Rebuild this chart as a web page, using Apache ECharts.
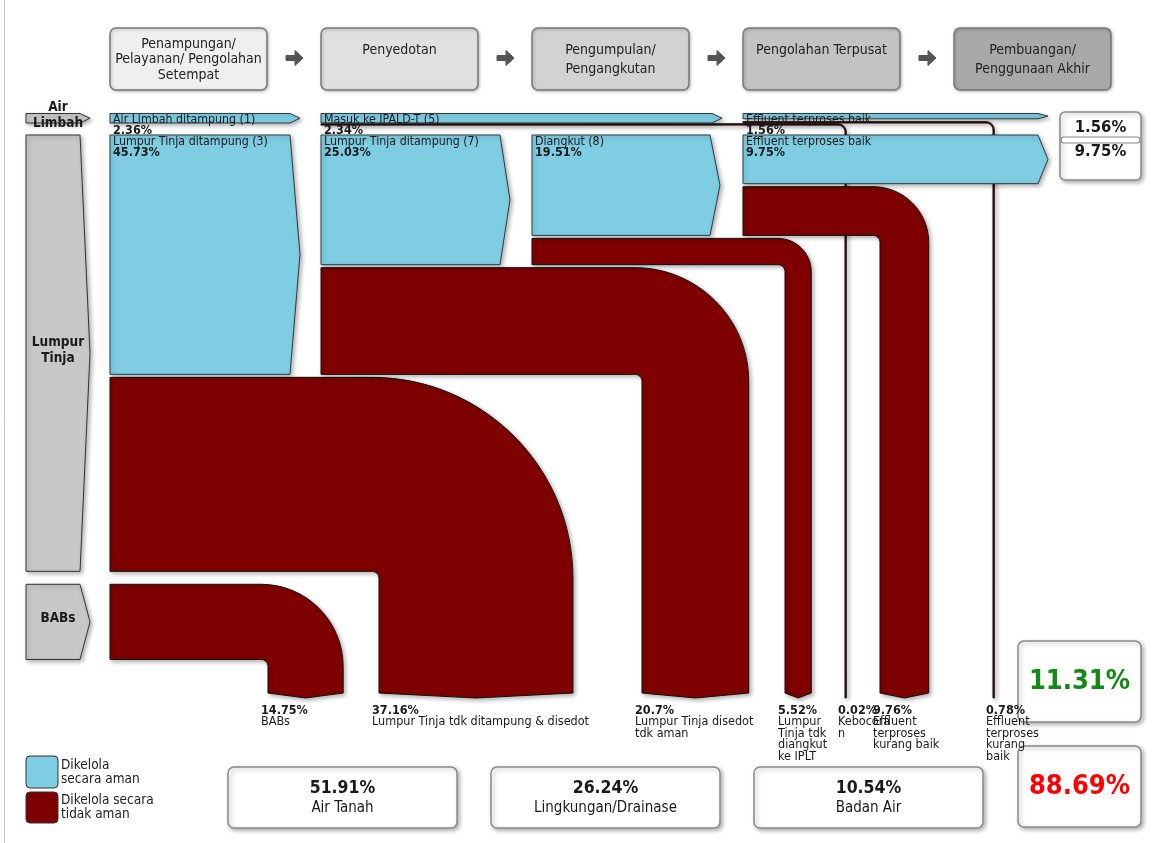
<!DOCTYPE html>
<html><head><meta charset="utf-8">
<script src="https://cdn.jsdelivr.net/npm/echarts@6/dist/echarts.min.js"></script>
<style>html,body{margin:0;padding:0;background:#fff}#c{width:1153px;height:843px}</style>
</head><body><div id="c"></div>
<script>
// ================= DATA =================
const stageNames = ['Penampungan/\nPelayanan/ Pengolahan\nSetempat', 'Penyedotan\n ', 'Pengumpulan/\nPengangkutan', 'Pengolahan Terpusat\n ', 'Pembuangan/\nPenggunaan Akhir'];
const sourceNames = ['Air\nLimbah', 'Lumpur\nTinja', 'BABs'];
const sourceValues = [2.36, 82.89, 14.75];

const safeNames = ['Air Limbah ditampung (1)', 'Lumpur Tinja ditampung (3)', 'Masuk ke IPALD-T (5)', 'Lumpur Tinja ditampung (7)', 'Diangkut (8)', 'Effluent terproses baik', 'Effluent terproses baik'];
const safeValues = [2.36, 45.73, 2.34, 25.03, 19.51, 1.56, 9.75];

const unsafeNames = ['BABs', 'Lumpur Tinja tdk ditampung & disedot', 'Lumpur Tinja disedot\ntdk aman', 'Lumpur\nTinja tdk\ndiangkut\nke IPLT', 'Kebocora\nn', 'Effluent\nterproses\nkurang baik', 'Effluent\nterproses\nkurang\nbaik'];
const unsafeValues = [14.75, 37.16, 20.7, 5.52, 0.02, 9.76, 0.78];

const endNames = ['Air Tanah', 'Lingkungan/Drainase', 'Badan Air'];
const endValues = [51.91, 26.24, 10.54];
const finalSafeValues = [1.56, 9.75];
const totalValues = [11.31, 88.69];

const legendNames = ['Dikelola\nsecara aman', 'Dikelola secara\ntidak aman'];

// ================= LAYOUT / STYLE =================
const FONT = "'Liberation Sans Narrow','DejaVu Sans Condensed','Roboto Condensed','Liberation Sans',sans-serif";
const BLUE = '#7ecde2', MAROON = '#7f0000', GRAY = '#c8c8c8';
const K = 5.3;          // px per percentage point
const INSET = 1.5, TIP = 10, MIN_T = 1.3, Y_END = 693;
const ROW_Y = [112, 133.5, 582.8];           // air row, lumpur row, BABs row
const SRC_X = [26, 90];
// safe flows: [startX, tipX, row]
const safeLayout = [[110, 300, 0], [110, 300, 1], [321, 722, 0], [321, 510, 1], [532, 720, 1], [743, 1048, 0], [743, 1048, 1]];
// unsafe flows: [startX, dropX, row, index of safe flow stacked above]
const unsafeLayout = [[110, 268, 2, -1], [110, 379, 1, 1], [321, 642, 1, 3], [532, 785, 1, 4], [321, 845, 0, 2], [743, 880, 1, 6], [743, 993, 0, 5]];
const stageBoxX = [110, 321, 532, 743, 954];
const stageFill = ['#efefef', '#e0e0e0', '#d2d2d2', '#c3c3c3', '#a9a9a9'];
const endBoxX = [228, 491, 754];
const totalColors = ['#138a13', '#ff0000'];

const SHADOW = {shadowBlur: 4, shadowOffsetX: 2, shadowOffsetY: 2, shadowColor: 'rgba(0,0,0,0.3)'};
const pct = v => v + '%';
function txt(x, y, text, opt) {
  return {type: 'text', x: x, y: y, z2: 50, silent: true,
    style: Object.assign({text: text, fill: '#1a1a1a', fontFamily: FONT, fontSize: 13, align: 'left', verticalAlign: 'middle'}, opt || {})};
}

// ================= RENDERERS =================
function renderSource(params, api) {
  const i = params.dataIndex;
  const a = api.coord([api.value(0), api.value(2)]);
  const b = api.coord([api.value(1), api.value(2) + api.value(3) * K]);
  const top = a[1] + INSET, bot = b[1] - INSET, mid = (top + bot) / 2;
  return {type: 'group', children: [
    {type: 'polygon', shape: {points: [[a[0], top], [b[0] - TIP, top], [b[0], mid], [b[0] - TIP, bot], [a[0], bot]]},
      style: Object.assign({fill: GRAY, stroke: '#333', lineWidth: 1}, SHADOW)},
    txt((a[0] + b[0]) / 2, mid - 3, sourceNames[i], {fontWeight: 'bold', align: 'center', fontSize: 13.5, lineHeight: 16})
  ]};
}

function renderSafe(params, api) {
  const i = params.dataIndex;
  const rowY = api.value(2), off = api.value(3), v = api.value(4);
  const a = api.coord([api.value(0), rowY + off * K]);
  const b = api.coord([api.value(1), rowY + (off + v) * K]);
  const top = a[1] + INSET, bot = b[1] - INSET, mid = (top + bot) / 2;
  return {type: 'group', children: [
    {type: 'polygon', shape: {points: [[a[0], top], [b[0] - TIP, top], [b[0], mid], [b[0] - TIP, bot], [a[0], bot]]},
      style: Object.assign({fill: BLUE, stroke: '#2d3b40', lineWidth: 1}, SHADOW)},
    txt(a[0] + 3, top + 6.5, safeNames[i], {fontSize: 12.3}),
    txt(a[0] + 3, top + 17.5, pct(v), {fontSize: 12.5, fontWeight: 'bold'})
  ]};
}

function renderUnsafe(params, api) {
  const i = params.dataIndex;
  const rowY = api.value(2), off = api.value(3), v = api.value(4);
  const a = api.coord([api.value(0), rowY + off * K]);
  const b = api.coord([api.value(1), rowY + (off + v) * K]);
  const r = api.coord([api.value(1) + v * K, Y_END]);
  let top = a[1] + INSET, bot = b[1] - INSET;
  let xl = b[0], xr = r[0] - 2 * INSET;
  if (bot - top < MIN_T) {
    const c = (a[1] + b[1]) / 2; top = c - MIN_T / 2; bot = c + MIN_T / 2; xr = xl + MIN_T;
  }
  const t = bot - top;
  const thin = t < 4;
  const yEnd = thin ? r[1] + 5 : r[1];
  const notch = thin ? 0 : 5;
  const ri = 7, ro = (xr - xl) + ri, kk = 0.5523;
  const x0 = a[0];
  let d = 'M' + x0 + ',' + top + ' L' + (xr - ro) + ',' + top +
    ' C' + (xr - ro + ro * kk) + ',' + top + ' ' + xr + ',' + (top + ro - ro * kk) + ' ' + xr + ',' + (top + ro) +
    ' L' + xr + ',' + yEnd;
  if (notch) d += ' L' + ((xl + xr) / 2) + ',' + (yEnd + notch);
  d += ' L' + xl + ',' + yEnd + ' L' + xl + ',' + (bot + ri) +
    ' C' + xl + ',' + (bot + ri - ri * kk) + ' ' + (xl - ri + ri * kk) + ',' + bot + ' ' + (xl - ri) + ',' + bot +
    ' L' + x0 + ',' + bot + ' Z';
  return {type: 'group', children: [
    {type: 'path', shape: {pathData: d}, style: Object.assign({fill: MAROON, stroke: '#111', lineWidth: 1}, SHADOW)},
    txt(xl - 7, r[1] + 18, pct(v), {fontWeight: 'bold', fontSize: 12.5, verticalAlign: 'middle'}),
    txt(xl - 7, r[1] + 23, unsafeNames[i], {fontSize: 12.5, verticalAlign: 'top', lineHeight: 11.6})
  ]};
}

function renderEnd(params, api) {
  const i = params.dataIndex;
  const a = api.coord([api.value(0), 767]);
  const b = api.coord([api.value(0) + 229, 828]);
  const cx = (a[0] + b[0]) / 2;
  return {type: 'group', children: [
    {type: 'rect', shape: {x: a[0], y: a[1], width: b[0] - a[0], height: b[1] - a[1], r: 6},
      style: Object.assign({fill: '#fff', stroke: '#8a8a8a', lineWidth: 1.5}, SHADOW)},
    txt(cx, a[1] + 21, pct(api.value(1)), {fontWeight: 'bold', fontSize: 17.5, align: 'center'}),
    txt(cx, a[1] + 41, endNames[i], {fontSize: 15, align: 'center'})
  ]};
}

function renderTotal(params, api) {
  const i = params.dataIndex;
  const a = api.coord([1018, api.value(0)]);
  const b = api.coord([1141, api.value(0) + 81]);
  return {type: 'group', children: [
    {type: 'rect', shape: {x: a[0], y: a[1], width: b[0] - a[0], height: b[1] - a[1], r: 6},
      style: Object.assign({fill: '#fff', stroke: '#8a8a8a', lineWidth: 1.5}, SHADOW)},
    txt((a[0] + b[0]) / 2, (a[1] + b[1]) / 2, pct(api.value(1)), {fontWeight: 'bold', fontSize: 27, align: 'center', fill: totalColors[i]})
  ]};
}

function renderFinalSafe(params, api) {
  const a = api.coord([1060, 112]);
  const b = api.coord([1141, 180]);
  const cx = (a[0] + b[0]) / 2;
  const children = [];
  if (params.dataIndex === 0) {
    children.push({type: 'rect', shape: {x: a[0], y: a[1], width: b[0] - a[0], height: b[1] - a[1], r: 5},
      style: Object.assign({fill: '#fff', stroke: '#8a8a8a', lineWidth: 1.5}, SHADOW)});
    children.push({type: 'rect', z2: 5, shape: {x: a[0] + 1, y: a[1] + 25, width: b[0] - a[0] - 2, height: 6, r: 3},
      style: {fill: '#fff', stroke: '#8a8a8a', lineWidth: 1.2}});
  }
  children.push(txt(cx, a[1] + 16 + params.dataIndex * 24, pct(api.value(1)), {fontWeight: 'bold', fontSize: 16.5, align: 'center'}));
  return {type: 'group', children: children};
}

// ================= DECORATION (headers, legend) =================
const graphics = [{type: 'line', shape: {x1: 4.5, y1: 0, x2: 4.5, y2: 843}, style: {stroke: '#c4c4c4', lineWidth: 1}}];
stageNames.forEach((s, i) => {
  const x = stageBoxX[i];
  graphics.push({type: 'rect', shape: {x: x, y: 28, width: 157, height: 62, r: 6},
    style: Object.assign({fill: stageFill[i], stroke: '#7a7a7a', lineWidth: 1.5}, {shadowBlur: 3, shadowOffsetX: 1, shadowOffsetY: 1, shadowColor: 'rgba(0,0,0,0.25)'})});
  graphics.push({type: 'text', x: x + 78.5, y: 59.5, z: 10,
    style: {text: s, fill: '#222', fontFamily: FONT, fontSize: 14, align: 'center', verticalAlign: 'middle', lineHeight: i === 0 ? 15.5 : 19}});
  if (i < stageNames.length - 1) {
    const cx = (x + 157 + stageBoxX[i + 1]) / 2, cy = 58;
    graphics.push({type: 'polygon', shape: {points: [[cx - 8, cy - 2.5], [cx + 1, cy - 2.5], [cx + 1, cy - 7.5], [cx + 9, cy], [cx + 1, cy + 7.5], [cx + 1, cy + 2.5], [cx - 8, cy + 2.5]]},
      style: {fill: '#555', stroke: '#555', lineWidth: 1, lineJoin: 'round'}});
  }
});
[[BLUE, 756, 32], [MAROON, 792, 31]].forEach((l, i) => {
  graphics.push({type: 'rect', shape: {x: 26, y: l[1], width: 32, height: l[2], r: 4}, style: {fill: l[0], stroke: '#333', lineWidth: 1}});
  graphics.push({type: 'text', x: 61, y: l[1] + l[2] / 2, style: {text: legendNames[i], fill: '#222', fontFamily: FONT, fontSize: 13.5, align: 'left', verticalAlign: 'middle', lineHeight: 14}});
});

// ================= CHART =================
const chart = echarts.init(document.getElementById('c'), null, {renderer: 'canvas'});
const base = {type: 'custom', coordinateSystem: 'cartesian2d', silent: true, animation: false, clip: false};
chart.setOption({
  animation: false,
  backgroundColor: '#ffffff',
  grid: {left: 0, right: 0, top: 0, bottom: 0, containLabel: false},
  xAxis: {type: 'value', min: 0, max: 1153, show: false},
  yAxis: {type: 'value', min: 0, max: 843, inverse: true, show: false},
  graphic: graphics,
  series: [
    Object.assign({}, base, {name: 'sources', data: sourceValues.map((v, i) => [SRC_X[0], SRC_X[1], ROW_Y[i], v]), renderItem: renderSource}),
    Object.assign({}, base, {name: 'unsafe', data: unsafeValues.map((v, i) => {
      const L = unsafeLayout[i];
      return [L[0], L[1], ROW_Y[L[2]], L[3] >= 0 ? safeValues[L[3]] : 0, v];
    }), renderItem: renderUnsafe}),
    Object.assign({}, base, {name: 'safe', data: safeValues.map((v, i) => {
      const L = safeLayout[i];
      return [L[0], L[1], ROW_Y[L[2]], 0, v];
    }), renderItem: renderSafe}),
    Object.assign({}, base, {name: 'finalSafe', data: finalSafeValues.map((v, i) => [i, v]), renderItem: renderFinalSafe}),
    Object.assign({}, base, {name: 'endUse', data: endValues.map((v, i) => [endBoxX[i], v]), renderItem: renderEnd}),
    Object.assign({}, base, {name: 'totals', data: totalValues.map((v, i) => [[641, 746][i], v]), renderItem: renderTotal})
  ]
});
</script>
</body></html>
